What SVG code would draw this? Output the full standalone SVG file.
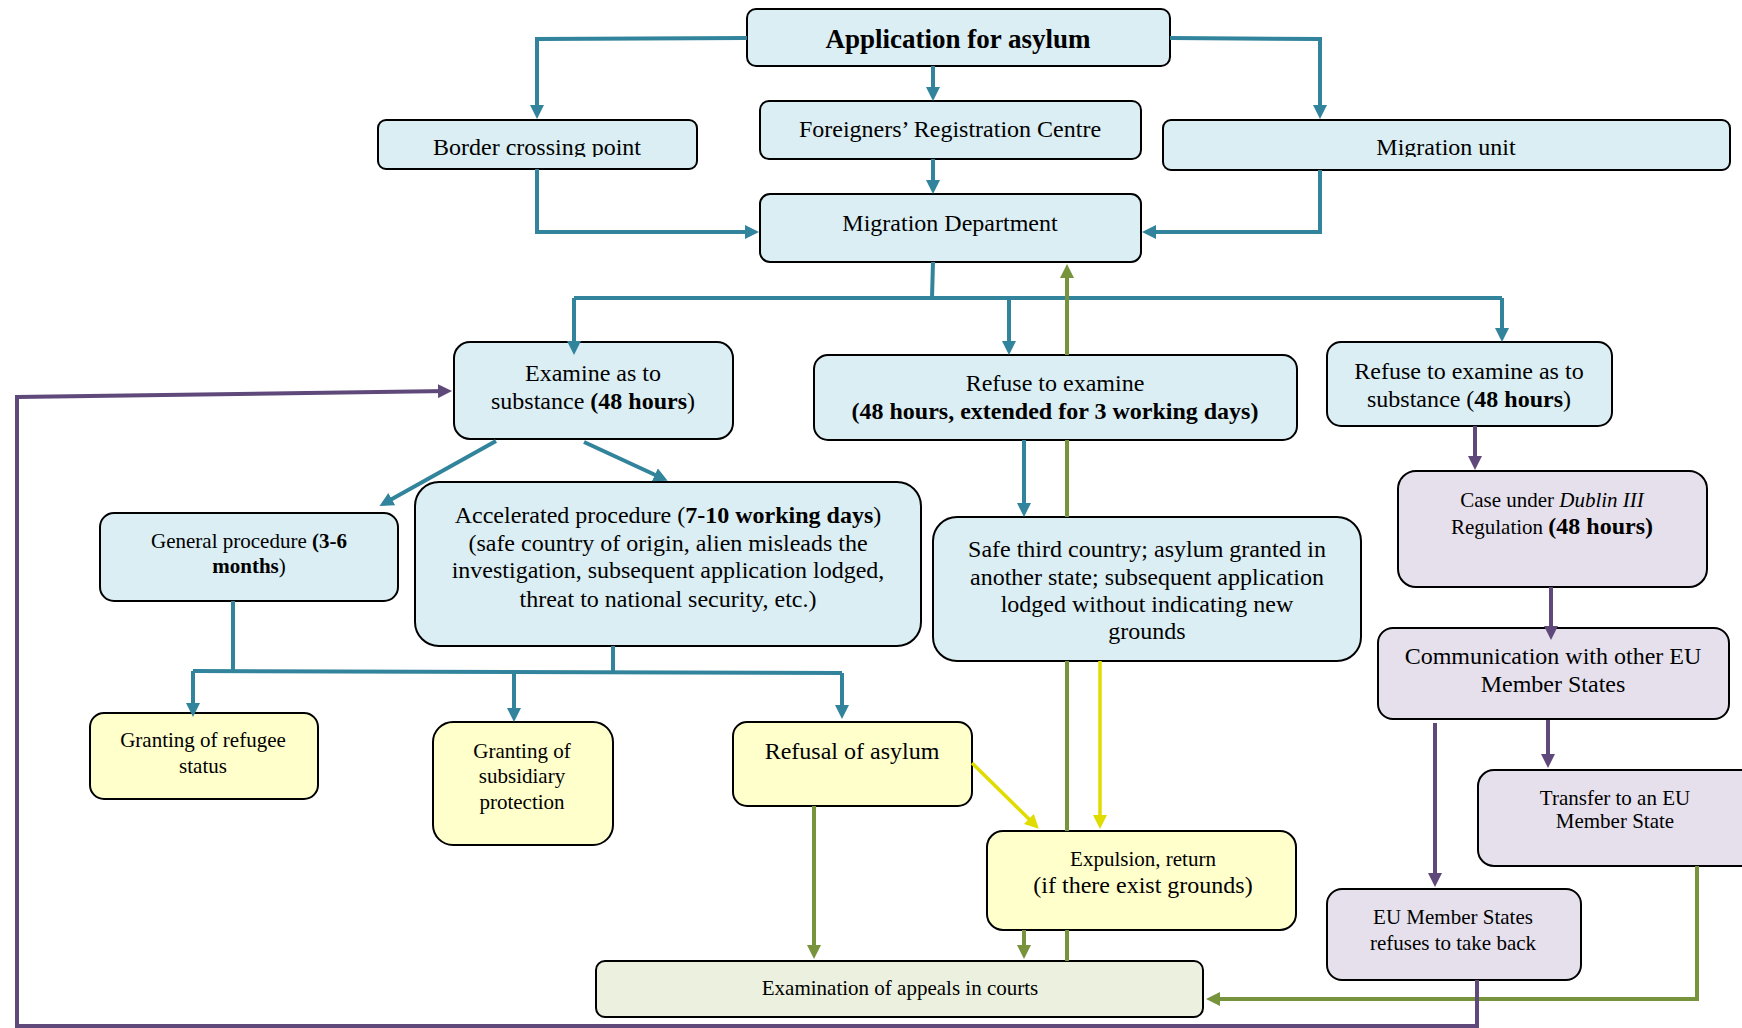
<svg xmlns="http://www.w3.org/2000/svg" width="1742" height="1028" viewBox="0 0 1742 1028">
<style>
.box{stroke:#000;stroke-width:2}
.b{fill:#DAEEF3}.y{fill:#FFFFCC}.p{fill:#E5E0EC}.g{fill:#EBF1DE}
text{font-family:"Liberation Serif","Times New Roman",serif;fill:#000;text-anchor:middle}
.t21{font-size:24px}.t19{font-size:21px}
.bold{font-weight:bold}
.cb{stroke:#31849B;stroke-width:4;fill:none}
.cg{stroke:#77933C;stroke-width:4;fill:none}
.cp{stroke:#5F497A;stroke-width:4;fill:none}
.cy{stroke:#E0DC00;stroke-width:3.5;fill:none}
</style>
<defs>
<marker id="ab" viewBox="0 0 14 14" markerWidth="14" markerHeight="14" refX="10" refY="7" orient="auto" markerUnits="userSpaceOnUse"><path d="M0,0 L14,7 L0,14 z" fill="#31849B"/></marker>
<marker id="ag" viewBox="0 0 14 14" markerWidth="14" markerHeight="14" refX="10" refY="7" orient="auto" markerUnits="userSpaceOnUse"><path d="M0,0 L14,7 L0,14 z" fill="#77933C"/></marker>
<marker id="ap" viewBox="0 0 14 14" markerWidth="14" markerHeight="14" refX="10" refY="7" orient="auto" markerUnits="userSpaceOnUse"><path d="M0,0 L14,7 L0,14 z" fill="#5F497A"/></marker>
<marker id="ay" viewBox="0 0 14 14" markerWidth="14" markerHeight="14" refX="10" refY="7" orient="auto" markerUnits="userSpaceOnUse"><path d="M0,0 L14,7 L0,14 z" fill="#E0DC00"/></marker>
<clipPath id="clipTop"><rect x="0" y="0" width="1742" height="157"/></clipPath>
</defs>
<rect width="1742" height="1028" fill="#fff"/>

<g id="n-application"><rect class="box b" x="747" y="9" width="423" height="57" rx="9"/><text class="bold" x="958" y="48" style="font-size:27px">Application for asylum</text></g>
<g id="n-border"><rect class="box b" x="378" y="120" width="319" height="49" rx="8"/><text class="t21" x="537" y="155" clip-path="url(#clipTop)">Border crossing point</text></g>
<g id="n-frc"><rect class="box b" x="760" y="101" width="381" height="58" rx="9"/><text class="t21" x="950" y="137">Foreigners’ Registration Centre</text></g>
<g id="n-unit"><rect class="box b" x="1163" y="120" width="567" height="50" rx="8"/><text class="t21" x="1446" y="155" clip-path="url(#clipTop)">Migration unit</text></g>
<g id="n-dept"><rect class="box b" x="760" y="194" width="381" height="68" rx="10"/><text class="t21" x="950" y="231">Migration Department</text></g>
<g id="n-examine"><rect class="box b" x="454" y="342" width="279" height="97" rx="16"/><text class="t21" x="593" y="381">Examine as to</text><text class="t21" x="593" y="409">substance <tspan class="bold">(48 hours</tspan>)</text></g>
<g id="n-refuse"><rect class="box b" x="814" y="355" width="483" height="85" rx="14"/><text class="t21" x="1055" y="391">Refuse to examine</text><text class="t21 bold" x="1055" y="419">(48 hours, extended for 3 working days)</text></g>
<g id="n-refuse-sub"><rect class="box b" x="1327" y="342" width="285" height="84" rx="14"/><text class="t21" x="1469" y="379">Refuse to examine as to</text><text class="t21" x="1469" y="407">substance (<tspan class="bold">48 hours</tspan>)</text></g>
<g id="n-general"><rect class="box b" x="100" y="513" width="298" height="88" rx="14"/><text class="t19" x="249" y="548">General procedure <tspan class="bold">(3-6</tspan></text><text class="t19 bold" x="249" y="573">months<tspan style="font-weight:normal">)</tspan></text></g>
<g id="n-accel"><rect class="box b" x="415" y="482" width="506" height="164" rx="24"/><text class="t21" x="668" y="523">Accelerated procedure (<tspan class="bold">7-10 working days</tspan>)</text><text class="t21" x="668" y="551">(safe country of origin, alien misleads the</text><text class="t21" x="668" y="578">investigation, subsequent application lodged,</text><text class="t21" x="668" y="607">threat to national security, etc.)</text></g>
<g id="n-safe"><rect class="box b" x="933" y="517" width="428" height="144" rx="24"/><text class="t21" x="1147" y="557">Safe third country; asylum granted in</text><text class="t21" x="1147" y="585">another state; subsequent application</text><text class="t21" x="1147" y="612">lodged without indicating new</text><text class="t21" x="1147" y="639">grounds</text></g>
<g id="n-dublin"><rect class="box p" x="1398" y="471" width="309" height="116" rx="18"/><text class="t19" x="1552" y="507">Case under <tspan font-style="italic">Dublin III</tspan></text><text class="t19" x="1552" y="534">Regulation <tspan class="bold" style="font-size:24px">(48 hours)</tspan></text></g>
<g id="n-comm"><rect class="box p" x="1378" y="628" width="351" height="91" rx="15"/><text class="t21" x="1553" y="664">Communication with other EU</text><text class="t21" x="1553" y="692">Member States</text></g>
<g id="n-transfer"><rect class="box p" x="1478" y="770" width="290" height="96" rx="16"/><text class="t19" x="1615" y="805">Transfer to an EU</text><text class="t19" x="1615" y="828">Member State</text></g>
<g id="n-eurefuse"><rect class="box p" x="1327" y="889" width="254" height="91" rx="15"/><text class="t19" x="1453" y="924">EU Member States</text><text class="t19" x="1453" y="950">refuses to take back</text></g>
<g id="n-refugee"><rect class="box y" x="90" y="713" width="228" height="86" rx="14"/><text class="t19" x="203" y="747">Granting of refugee</text><text class="t19" x="203" y="773">status</text></g>
<g id="n-subsidiary"><rect class="box y" x="433" y="722" width="180" height="123" rx="20"/><text class="t19" x="522" y="758">Granting of</text><text class="t19" x="522" y="783">subsidiary</text><text class="t19" x="522" y="809">protection</text></g>
<g id="n-refusal"><rect class="box y" x="733" y="722" width="239" height="84" rx="14"/><text class="t21" x="852" y="759">Refusal of asylum</text></g>
<g id="n-expulsion"><rect class="box y" x="987" y="831" width="309" height="99" rx="16"/><text class="t19" x="1143" y="866">Expulsion, return</text><text class="t21" x="1143" y="893">(if there exist grounds)</text></g>
<g id="n-appeals"><rect class="box g" x="596" y="961" width="607" height="56" rx="9"/><text class="t19" x="900" y="995">Examination of appeals in courts</text></g>

<g id="connectors">
<path class="cb" d="M747,38 L537,39 L537,115" marker-end="url(#ab)"/>
<path class="cb" d="M933,66 L933,97" marker-end="url(#ab)"/>
<path class="cb" d="M1170,38 L1320,39 L1320,115" marker-end="url(#ab)"/>
<path class="cb" d="M537,169 L537,232 L755,232" marker-end="url(#ab)"/>
<path class="cb" d="M933,159 L933,190" marker-end="url(#ab)"/>
<path class="cb" d="M1320,170 L1320,232 L1146,232" marker-end="url(#ab)"/>
<path class="cb" d="M933,262 L932,298"/>
<path class="cb" d="M574,298 L1502,298"/>
<path class="cb" d="M574,298 L574,351" marker-end="url(#ab)"/>
<path class="cb" d="M1009,298 L1009,351" marker-end="url(#ab)"/>
<path class="cb" d="M1502,298 L1502,338" marker-end="url(#ab)"/>
<path class="cb" d="M496,441 L383,504" marker-end="url(#ab)"/>
<path class="cb" d="M584,442 L664,479" marker-end="url(#ab)"/>
<path class="cb" d="M1024,440 L1024,513" marker-end="url(#ab)"/>
<path class="cb" d="M233,601 L233,671"/>
<path class="cb" d="M613,646 L613,671"/>
<path class="cb" d="M193,671 L842,673"/>
<path class="cb" d="M193,671 L193,713" marker-end="url(#ab)"/>
<path class="cb" d="M514,672 L514,718" marker-end="url(#ab)"/>
<path class="cb" d="M842,673 L842,715" marker-end="url(#ab)"/>
<path class="cg" d="M1067,961 L1067,930"/>
<path class="cg" d="M1067,831 L1067,661"/>
<path class="cg" d="M1067,517 L1067,440"/>
<path class="cg" d="M1067,355 L1067,268" marker-end="url(#ag)"/>
<path class="cg" d="M814,806 L814,955" marker-end="url(#ag)"/>
<path class="cg" d="M1024,930 L1024,955" marker-end="url(#ag)"/>
<path class="cg" d="M1697,866 L1697,999 L1210,999" marker-end="url(#ag)"/>
<path class="cy" d="M972,763 L1036,826" marker-end="url(#ay)"/>
<path class="cy" d="M1100,661 L1100,825" marker-end="url(#ay)"/>
<path class="cp" d="M1475,426 L1475,466" marker-end="url(#ap)"/>
<path class="cp" d="M1551,587 L1551,636" marker-end="url(#ap)"/>
<path class="cp" d="M1548,720 L1548,764" marker-end="url(#ap)"/>
<path class="cp" d="M1435,723 L1435,883" marker-end="url(#ap)"/>
<path class="cp" d="M1477,980 L1477,1026 L17,1026 L17,397 L448,391" marker-end="url(#ap)"/>
</g>
</svg>
